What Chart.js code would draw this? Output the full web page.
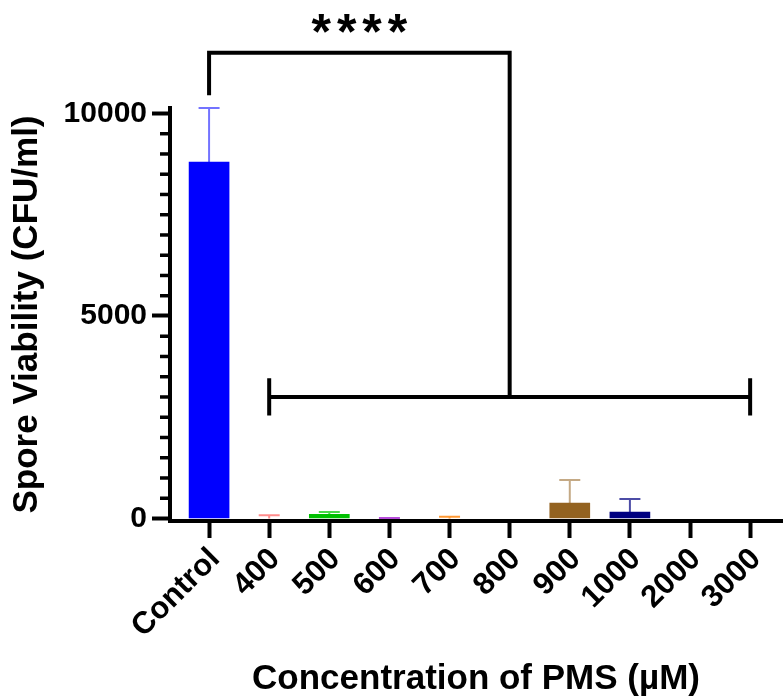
<!DOCTYPE html>
<html><head><meta charset="utf-8">
<script src="https://cdn.jsdelivr.net/npm/chart.js@4.4.1/dist/chart.umd.min.js"></script>
<style>html,body{margin:0;padding:0;background:#fff;}canvas{display:block;}</style>
</head><body>
<canvas id="c" width="784" height="699"></canvas>
<script>
const categories = ['Control','400','500','600','700','800','900','1000','2000','3000'];
const means = [8800, 0, 100, 0, 0, 0, 380, 160, 0, 0];
const sds = [1335, 80, 60, 10, 45, 0, 570, 320, 0, 0];
const barColors = ['#0000ff','#ff0000','#00c000','#9900cc','#ff8000','#808080','#936220','#000080','#808080','#808080'];
const errorColors = ['rgba(0,0,255,0.55)','rgba(255,0,0,0.45)','rgba(0,200,0,0.7)','rgba(153,0,204,0.7)','rgba(255,128,0,0.8)','#888','rgba(147,98,32,0.55)','rgba(0,0,128,0.7)','#888','#888'];
const yTickValues = [0, 5000, 10000];
const yMinorStep = 500;
const topBracket = { from: 0, to: 5, y: 11500, leftEnd: 10450, rightEnd: 3000 };
const lowBracket = { from: 1, to: 9, y: 3000, half: 460 };
const sigLabel = '****';
const sigLabelY = 11600;
const FONT = '"Liberation Sans", Arial, sans-serif';

const annot = {
  id: 'annot',
  afterDatasetsDraw(chart) {
    const { ctx, scales: { x, y } } = chart;
    ctx.save();
    // error bars
    means.forEach((m, i) => {
      if (!sds[i]) return;
      const px = x.getPixelForValue(i);
      const y0 = y.getPixelForValue(m), y1 = y.getPixelForValue(m + sds[i]);
      ctx.strokeStyle = errorColors[i];
      ctx.lineWidth = 2;
      ctx.beginPath();
      ctx.moveTo(px, y0); ctx.lineTo(px, y1);
      ctx.moveTo(px - 10.5, y1); ctx.lineTo(px + 10.5, y1);
      ctx.stroke();
    });
    // minor ticks
    ctx.strokeStyle = '#000';
    ctx.lineWidth = 3.5;
    const ax = chart.chartArea.left;
    for (let v = yMinorStep; v < yTickValues[yTickValues.length - 1]; v += yMinorStep) {
      if (yTickValues.includes(v)) continue;
      const py = y.getPixelForValue(v);
      ctx.beginPath(); ctx.moveTo(ax - 10, py); ctx.lineTo(ax - 1, py); ctx.stroke();
    }
    // brackets
    ctx.lineWidth = 4;
    ctx.lineJoin = 'miter';
    ctx.lineCap = 'butt';
    const tx1 = x.getPixelForValue(topBracket.from), tx2 = x.getPixelForValue(topBracket.to);
    const ty = y.getPixelForValue(topBracket.y);
    ctx.beginPath();
    ctx.moveTo(tx1, y.getPixelForValue(topBracket.leftEnd));
    ctx.lineTo(tx1, ty); ctx.lineTo(tx2, ty);
    ctx.lineTo(tx2, y.getPixelForValue(topBracket.rightEnd));
    ctx.stroke();
    const lx1 = x.getPixelForValue(lowBracket.from), lx2 = x.getPixelForValue(lowBracket.to);
    const ly = y.getPixelForValue(lowBracket.y);
    const lyA = y.getPixelForValue(lowBracket.y + lowBracket.half), lyB = y.getPixelForValue(lowBracket.y - lowBracket.half);
    ctx.beginPath();
    ctx.moveTo(lx1, ly); ctx.lineTo(lx2, ly);
    ctx.moveTo(lx1, lyA); ctx.lineTo(lx1, lyB);
    ctx.moveTo(lx2, lyA); ctx.lineTo(lx2, lyB);
    ctx.stroke();
    // stars
    ctx.fillStyle = '#000';
    ctx.font = 'bold 50px ' + FONT;
    ctx.letterSpacing = '6px';
    ctx.textAlign = 'center';
    ctx.textBaseline = 'alphabetic';
    ctx.fillText(sigLabel, (tx1 + tx2) / 2 + 3, y.getPixelForValue(sigLabelY));
    ctx.restore();
  }
};

new Chart(document.getElementById('c'), {
  type: 'bar',
  data: {
    datasets: [{
      data: means.map((v, i) => ({ x: i, y: v })),
      backgroundColor: (c) => (means[c.dataIndex] > 0 ? barColors[c.dataIndex] : 'rgba(0,0,0,0)'),
      borderWidth: 0,
      barThickness: 40
    }]
  },
  options: {
    responsive: false,
    animation: false,
    devicePixelRatio: 1,
    layout: { padding: { top: 108, right: 2, bottom: 0, left: 0 } },
    plugins: { legend: { display: false }, tooltip: { enabled: false } },
    scales: {
      x: {
        type: 'linear',
        offset: false,
        min: -0.65,
        max: 9.53,
        afterBuildTicks: (s) => { s.ticks = categories.map((c, i) => ({ value: i })); },
        afterFit: (s) => { s.height = 178; },
        grid: { display: true, offset: false, drawOnChartArea: false, drawTicks: true, tickLength: 17, tickWidth: 4, tickColor: '#000' },
        border: { display: true, width: 4, color: '#000' },
        ticks: {
          autoSkip: false, minRotation: 45, maxRotation: 45, padding: 3, labelOffset: 6,
          color: '#000', font: { family: FONT, size: 31, weight: 'bold' },
          callback: (v) => categories[v]
        },
        title: {
          display: true, text: 'Concentration of PMS (µM)', color: '#000',
          font: { family: FONT, size: 35, weight: 'bold', lineHeight: 1 },
          padding: { top: 0, bottom: 2 }
        }
      },
      y: {
        min: -62,
        max: 10135,
        afterBuildTicks: (s) => { s.ticks = yTickValues.map(v => ({ value: v })); },
        afterFit: (s) => { s.width = 170; },
        grid: { display: true, drawOnChartArea: false, drawTicks: true, tickLength: 18, tickWidth: 4, tickColor: '#000' },
        border: { display: true, width: 4, color: '#000' },
        ticks: {
          padding: 5, color: '#000', font: { family: FONT, size: 30, weight: 'bold' },
          callback: (v) => String(v)
        },
        title: {
          display: true, text: 'Spore Viability (CFU/ml)', color: '#000',
          font: { family: FONT, size: 35, weight: 'bold', lineHeight: 1 },
          padding: { top: 10, bottom: 0 }
        }
      }
    }
  },
  plugins: [annot]
});
</script>
</body></html>
